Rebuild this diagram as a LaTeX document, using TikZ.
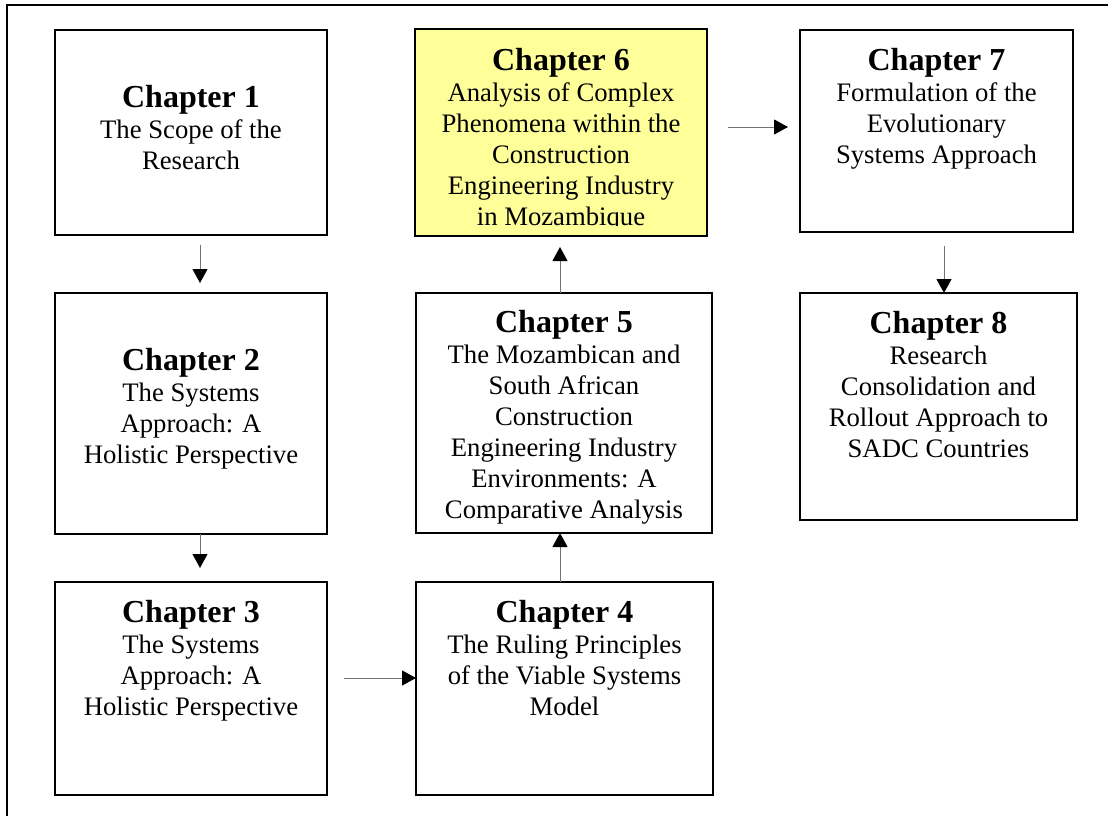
\documentclass[tikz,border=0pt]{standalone}
\usepackage{fontspec}
\setmainfont{Liberation Serif}
\usetikzlibrary{arrows.meta}
\definecolor{chapfill}{HTML}{FFFF99}
\newcommand{\chaphead}[1]{{\fontsize{32}{31}\selectfont\bfseries #1}}
\begin{document}
\begin{tikzpicture}[x=1pt,y=-1pt,
  chapbox/.style={draw=black, line width=2pt, fill=white, inner sep=0pt, outer sep=0pt},
  chaptext/.style={align=center, inner sep=0pt, anchor=north, font=\fontsize{26.7}{31}\selectfont},
  flow/.style={draw=black!55, line width=1pt, -{Triangle[length=14pt,width=15pt,color=black]}},
]
\useasboundingbox (0,0) rectangle (1108,816);
% outer frame (left and top edges)
\draw[line width=2pt] (7,816) -- (7,5) -- (1108,5);

% chapter boxes
\node[chapbox, minimum width=272pt, minimum height=205pt] (c1) at (191,132.5) {};
\node[chapbox, minimum width=272pt, minimum height=241pt] (c2) at (191,413.5) {};
\node[chapbox, minimum width=272pt, minimum height=213pt] (c3) at (191,688.5) {};
\node[chapbox, minimum width=297pt, minimum height=213pt] (c4) at (564.5,688.5) {};
\node[chapbox, minimum width=296pt, minimum height=240pt] (c5) at (564,413) {};
\node[chapbox, fill=chapfill, minimum width=292pt, minimum height=207pt] (c6) at (561,132.5) {};
\node[chapbox, minimum width=273pt, minimum height=202pt] (c7) at (936.5,131) {};
\node[chapbox, minimum width=277pt, minimum height=227pt] (c8) at (938.5,406.5) {};

% chapter titles
\node[chaptext] (t1) at ([yshift=-55.3pt]c1.north)
  {\chaphead{Chapter 1}\\The Scope of the\\Research};
\node[chaptext] (t2) at ([yshift=-55.3pt]c2.north)
  {\chaphead{Chapter 2}\\The Systems\\Approach: A\\Holistic Perspective};
\node[chaptext] (t3) at ([yshift=-18.3pt]c3.north)
  {\chaphead{Chapter 3}\\The Systems\\Approach: A\\Holistic Perspective};
\node[chaptext] (t4) at ([yshift=-18.3pt]c4.north)
  {\chaphead{Chapter 4}\\The Ruling Principles\\of the Viable Systems\\Model};
\node[chaptext] (t5) at ([yshift=-17.3pt]c5.north)
  {\chaphead{Chapter 5}\\The Mozambican and\\South African\\Construction\\Engineering Industry\\Environments: A\\Comparative Analysis};
\begin{scope}
  \clip ([yshift=11pt]c6.south west) rectangle (c6.north east);
  \node[chaptext] (t6) at ([yshift=-19.3pt]c6.north)
    {\chaphead{Chapter 6}\\Analysis of Complex\\Phenomena within the\\Construction\\Engineering Industry\\in Mozambique};
\end{scope}
\node[chaptext] (t7) at ([yshift=-18.3pt]c7.north)
  {\chaphead{Chapter 7}\\Formulation of the\\Evolutionary\\Systems Approach};
\node[chaptext] (t8) at ([yshift=-18.3pt]c8.north)
  {\chaphead{Chapter 8}\\Research\\Consolidation and\\Rollout Approach to\\SADC Countries};

% reading order
\draw[flow, shorten <=10pt, shorten >=10pt] ([xshift=9pt]c1.south) -- ([xshift=9pt]c1.south |- c2.north);
\draw[flow, shorten >=14pt] ([xshift=9pt]c2.south) -- ([xshift=9pt]c2.south |- c3.north);
\draw[flow, shorten <=17pt] ([yshift=10.5pt]c3.east) -- ([yshift=10.5pt]c3.east -| c4.west);
\draw[flow] ([xshift=-4.5pt]c4.north) -- ([xshift=-4.5pt]c4.north |- c5.south);
\draw[flow, shorten >=11pt] ([xshift=-4pt]c5.north) -- ([xshift=-4pt]c5.north |- c6.south);
\draw[flow, shorten <=21pt, shorten >=12pt] ([yshift=5.5pt]c6.east) -- ([yshift=5.5pt]c6.east -| c7.west);
\draw[flow, shorten <=14pt] ([xshift=7.5pt]c7.south) -- ([xshift=7.5pt]c7.south |- c8.north);
\end{tikzpicture}
\end{document}
